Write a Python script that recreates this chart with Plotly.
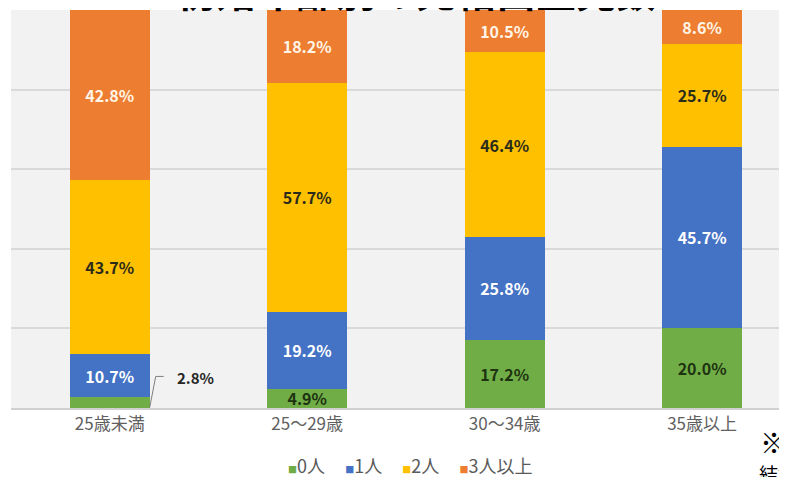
import plotly.graph_objects as go

categories = ["25歳未満", "25～29歳", "30～34歳", "35歳以上"]
series_names = ["0人", "1人", "2人", "3人以上"]
v0 = [2.8, 4.9, 17.2, 20.0]
v1 = [10.7, 19.2, 25.8, 45.7]
v2 = [43.7, 57.7, 46.4, 25.7]
v3 = [42.8, 18.2, 10.5, 8.6]
title_text = "初婚年齢別の完結出生児数"

colors = ["#70ad47", "#4472c4", "#ffc000", "#ed7d31"]
label_colors = ["#1e3310", "#ffffff", "#2b2b1a", "#fff5e6"]
FONT = "Noto Sans CJK JP"
BAR_W = 0.405

fig = go.Figure()
for name, vals, col, lc in zip(series_names, [v0, v1, v2, v3], colors, label_colors):
    texts = [f"{v:.1f}%" for v in vals]
    if vals is v0:
        texts[0] = ""  # small segment labelled outside
    fig.add_trace(go.Bar(
        x=categories, y=vals, name=name, marker_color=col, marker_line_width=0,
        width=BAR_W, text=texts, textposition="inside", insidetextanchor="middle",
        textangle=0, constraintext="none", cliponaxis=False,
        textfont=dict(family=FONT, size=16, color=lc, weight="bold"),
        showlegend=False, hoverinfo="skip"))

# legend drawn as text with small coloured squares
legend_html = "     ".join(
    f"<span style='color:{c};font-size:9px'>■</span>{n}" for n, c in zip(series_names, colors))
fig.add_annotation(xref="paper", yref="paper", x=0.515, y=-0.143, xanchor="center",
                   yanchor="middle", showarrow=False, text=legend_html,
                   font=dict(family=FONT, size=18, color="#595959"))

# outside label for the small first segment
fig.add_annotation(x=0, y=v0[0] / 2, xref="x", yref="y", text=f"{v0[0]:.1f}%",
                   showarrow=False, xshift=86, yshift=25, xanchor="center",
                   font=dict(family=FONT, size=15, color="#262626", weight="bold"))
fig.add_shape(type="path", xref="x", yref="y", xsizemode="pixel", ysizemode="pixel",
              xanchor=BAR_W / 2, yanchor=v0[0] / 2,
              path="M0,-5 L6,26 L14,26", line=dict(color="#7f7f7f", width=1))

fig.add_annotation(xref="paper", yref="paper", x=0.5225, y=1, yanchor="bottom",
                   xanchor="center", yshift=-11, showarrow=False, text=f"<b>{title_text}</b>",
                   font=dict(family=FONT, size=40, color="#000000"))
fig.add_annotation(xref="paper", yref="paper", x=0.962, y=-0.03, xanchor="left",
                   yanchor="top", showarrow=False, text="※完結出生児数とは",
                   font=dict(family=FONT, size=28, color="#000000"))
fig.add_annotation(xref="paper", yref="paper", x=0.961, y=-0.125, xanchor="left",
                   yanchor="top", showarrow=False, text="結婚持続期間15～19年",
                   font=dict(family=FONT, size=19, color="#000000"))

# page body has an 8px margin: figure is sized so that it ends at the window edge
fig.update_layout(
    width=779, height=469,
    margin=dict(l=3, r=0, t=2, b=69),
    barmode="stack", showlegend=False,
    paper_bgcolor="#ffffff", plot_bgcolor="#f2f2f2",
    xaxis=dict(range=[-0.5, 3.43], showgrid=False, ticks="", showline=True,
               linecolor="#d0d0d0", linewidth=2,
               tickfont=dict(family=FONT, size=17, color="#606060")),
    yaxis=dict(range=[0, 100.02], tickvals=[0, 20, 40, 60, 80, 100], showticklabels=False,
               gridcolor="#d9d9d9", gridwidth=1.5, zeroline=False, fixedrange=True),
)
fig.write_html("out.html")
